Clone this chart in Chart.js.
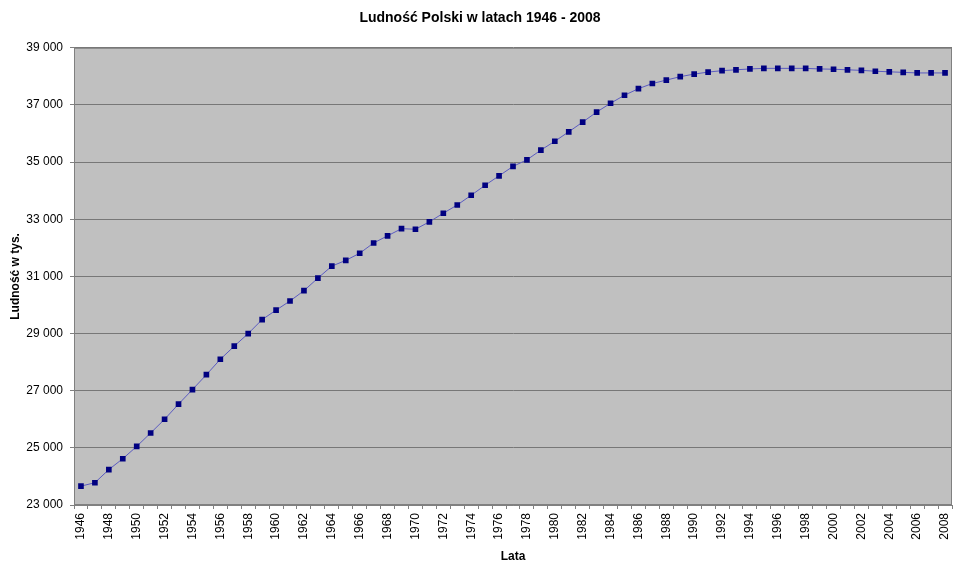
<!DOCTYPE html>
<html>
<head>
<meta charset="utf-8">
<script src="https://cdn.jsdelivr.net/npm/chart.js@4"></script>
<style>
  body { margin: 0; background: #fff; }
  canvas { display: block; }
</style>
</head>
<body>
<canvas id="wykres" width="960" height="567"></canvas>
<script>
const lata = [
   "1946","1947","1948","1949","1950","1951","1952","1953","1954","1955",
   "1956","1957","1958","1959","1960","1961","1962","1963","1964","1965",
   "1966","1967","1968","1969","1970","1971","1972","1973","1974","1975",
   "1976","1977","1978","1979","1980","1981","1982","1983","1984","1985",
   "1986","1987","1988","1989","1990","1991","1992","1993","1994","1995",
   "1996","1997","1998","1999","2000","2001","2002","2003","2004","2005",
   "2006","2007","2008"
];

// ludnosc w tysiacach
const ludnosc = [
   23660, 23780, 24240, 24620, 25050, 25520, 26000, 26530, 27040, 27560,
   28100, 28560, 29000, 29490, 29820, 30140, 30500, 30940, 31360, 31560,
   31810, 32170, 32420, 32670, 32650, 32910, 33210, 33500, 33840, 34190,
   34520, 34850, 35080, 35420, 35730, 36060, 36400, 36750, 37060, 37340,
   37570, 37750, 37870, 37990, 38080, 38150, 38200, 38230, 38260, 38280,
   38280, 38280, 38280, 38260, 38250, 38230, 38210, 38180, 38160, 38140,
   38120, 38120, 38120
];

const yMin = 23000;
const yMax = 39000;
const yKrok = 2000;

const FONT = 'Arial, "Liberation Sans", sans-serif';

// szare tlo pola wykresu + ramka
const tloPola = {
   id: 'tloPola',
   beforeDraw(chart) {
      const { ctx, chartArea: a } = chart;
      ctx.save();
      ctx.fillStyle = '#c0c0c0';
      ctx.fillRect(a.left, a.top, a.right - a.left, a.bottom - a.top);
      ctx.restore();
   },
   afterDatasetsDraw(chart) {
      const { ctx, chartArea: a } = chart;
      ctx.save();
      ctx.strokeStyle = '#808080';
      ctx.lineWidth = 1;
      ctx.strokeRect(a.left + 0.5, a.top + 0.5, a.right - a.left - 1, a.bottom - a.top - 1);
      ctx.restore();
   }
};

const ctx = document.getElementById('wykres');

const myChart = new Chart(ctx, {
   type: 'line',
   data: {
      labels: lata,
      datasets: [{
         label: 'Ludność',
         data: ludnosc,
         fill: false,
         borderColor: '#5c5cc0',
         borderWidth: 1,
         tension: 0,
         pointStyle: 'rect',
         pointRadius: 4,
         pointBackgroundColor: '#000080',
         pointBorderColor: '#000080',
         pointBorderWidth: 0
      }]
   },
   options: {
      responsive: false,
      animation: false,
      layout: {
         padding: { left: 8, right: 8, top: 0, bottom: 0 }
      },
      scales: {
         x: {
            offset: true,
            afterFit(scale) {
               scale.height = 62;
               scale.paddingLeft = 0;
               scale.paddingRight = 0;
            },
            grid: {
               offset: true,
               drawOnChartArea: false,
               drawTicks: true,
               tickLength: 4,
               color: '#808080'
            },
            border: { color: '#808080' },
            ticks: {
               autoSkip: false,
               minRotation: 90,
               maxRotation: 90,
               padding: 4,
               color: '#000',
               font: { family: FONT, size: 12 },
               callback: function (v, i) { return i % 2 === 0 ? lata[i] : ''; }
            },
            title: {
               display: true,
               text: 'Lata',
               color: '#000',
               font: { family: FONT, size: 12, weight: 'bold' },
               padding: { top: 0, bottom: 3 }
            }
         },
         y: {
            min: yMin,
            max: yMax,
            afterFit(scale) { scale.width = 66; },
            grid: {
               color: '#777777',
               lineWidth: 1,
               tickLength: 4,
               tickColor: '#808080'
            },
            border: { color: '#808080' },
            ticks: {
               stepSize: yKrok,
               padding: 7,
               color: '#000',
               font: { family: FONT, size: 12 },
               callback: v => String(v).replace(/\B(?=(\d{3})+(?!\d))/g, ' ')
            },
            title: {
               display: true,
               text: 'Ludność w tys.',
               color: '#000',
               font: { family: FONT, size: 12, weight: 'bold' },
               padding: { top: 0, bottom: 0 }
            }
         }
      },
      plugins: {
         legend: { display: false },
         tooltip: { enabled: false },
         title: {
            display: true,
            text: 'Ludność Polski w latach 1946 - 2008',
            color: '#000',
            font: { family: FONT, size: 14, weight: 'bold' },
            padding: { top: 10, bottom: 21 }
         }
      }
   },
   plugins: [tloPola]
});
</script>
</body>
</html>
